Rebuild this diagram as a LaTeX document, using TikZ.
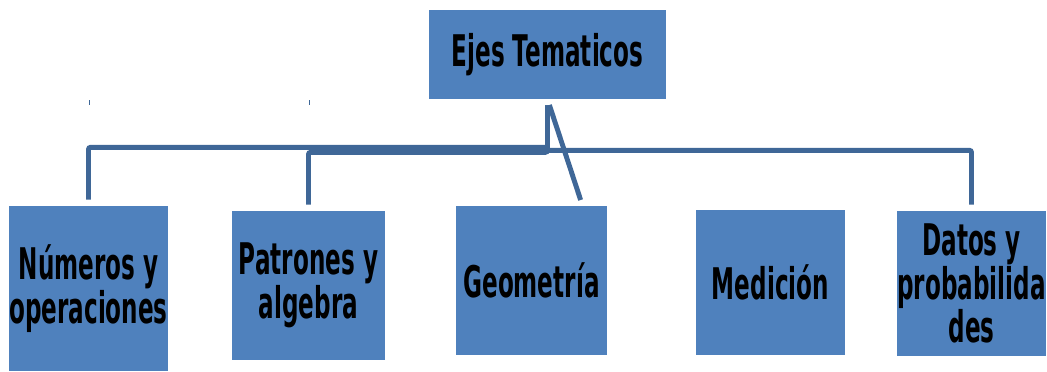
\documentclass[tikz,border=0pt]{standalone}
\usepackage{fontspec}
\newfontfamily\ejesfont[FakeStretch=0.53]{DejaVu Sans}
\usetikzlibrary{positioning}
\definecolor{boxblue}{HTML}{4F81BD}
\definecolor{lineblue}{HTML}{3F6797}

\begin{document}
\begin{tikzpicture}[x=0.025cm ,y=-0.025cm ,
tema/.style ={ rectangle ,fill =boxblue ,inner sep =0pt ,align =center ,
font =\ejesfont\bfseries\fontsize{31}{31}\selectfont},
enlace/.style ={ draw =lineblue ,line width =3.5pt ,rounded corners =1.5pt ,
shorten <=0.15cm ,shorten >=0.15cm},
marca/.style ={ draw =lineblue ,line width =0.6pt}]
\useasboundingbox (0,0) rectangle (1047,371);
\node[tema, minimum width =5.925cm, minimum height =2.225cm] (Ejes) at (547.5,54.5) {Ejes Tematicos};
\node[tema, minimum width =3.975cm, minimum height =4.125cm] (Numeros) at (88.5,288.5) {Números y\\operaciones};
\node[tema, minimum width =3.825cm, minimum height =3.725cm] (Patrones) at (308.5,285.5) {Patrones y\\algebra};
\node[tema, minimum width =3.775cm, minimum height =3.725cm] (Geometria) at (531.5,280.5) {Geometría};
\node[tema, minimum width =3.725cm, minimum height =3.625cm] (Medicion) at (770.5,282.5) {Medición};
\node[tema, minimum width =3.725cm, minimum height =3.625cm] (Datos) at (971.5,283.5) {Datos y\\probabilida\\des};

\path[enlace] (Ejes.south) -- ++(0,48) -| (Numeros.north);
\path[enlace] (Ejes.south) -- ++(0,53) -| (Patrones.north);
\path[enlace] (Ejes.south) -- ++(0,51) -| (Datos.north);
\path[enlace] (Ejes.south) -- ([xshift=1.275cm]Geometria.north);

\coordinate (Marca1) at (89,100);
\coordinate (Marca2) at (309,100);
\path[marca] (Marca1) -- ++(0,5);
\path[marca] (Marca2) -- ++(0,5);
\end{tikzpicture}
\end{document}
